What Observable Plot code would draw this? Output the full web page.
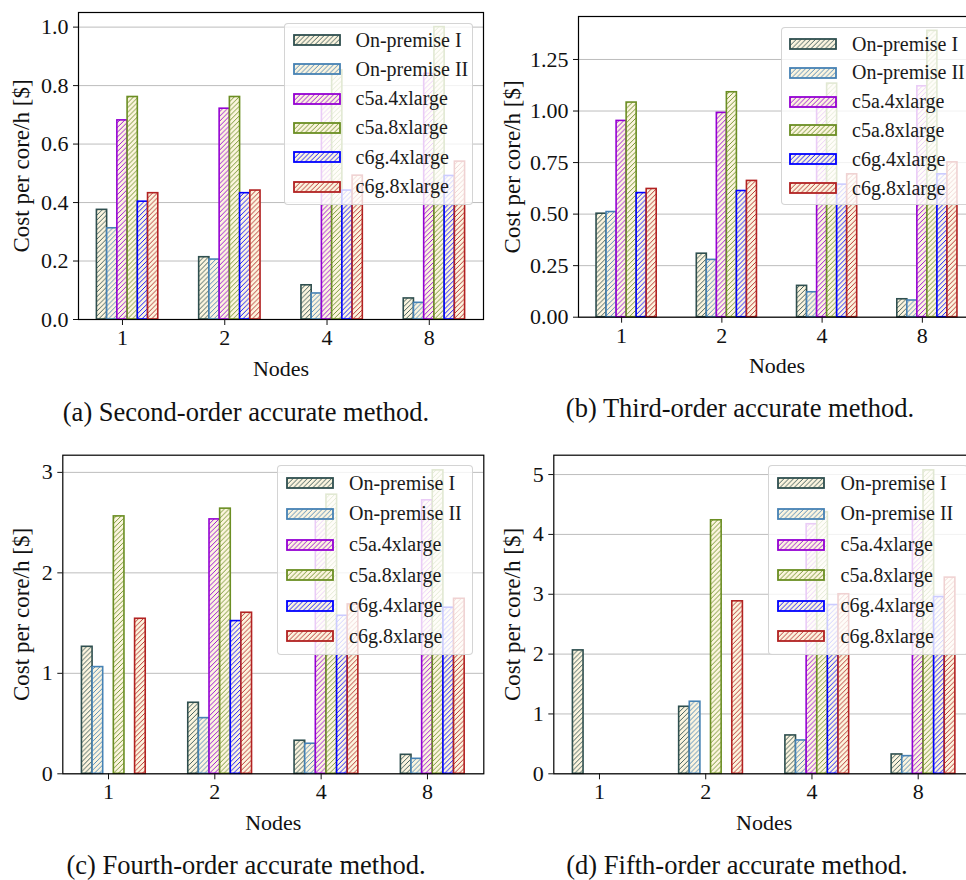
<!DOCTYPE html>
<html><head><meta charset="utf-8">
<script src="https://cdn.jsdelivr.net/npm/d3@7"></script>
<script src="https://cdn.jsdelivr.net/npm/@observablehq/plot@0.6"></script>
<style>
html,body{margin:0;padding:0;background:#fff;overflow:hidden}
#page{position:relative;width:966px;height:880px;overflow:hidden;font-family:"Liberation Serif",serif}
.panel{position:absolute;overflow:visible}
.panel svg{max-width:none !important}
.legend{position:absolute;background:rgba(255,255,255,0.8);border:1px solid rgba(205,205,205,0.85);border-radius:4px;box-sizing:border-box}
.legend .row{position:absolute;left:0;display:flex;align-items:center;font-family:"Liberation Serif",serif;font-size:20px;color:#1a1a1a;white-space:nowrap}
.legend .row svg{display:block}
.caption{position:absolute;font-family:"Liberation Serif",serif;font-size:26.5px;color:#111;white-space:nowrap;transform:translate(-50%,-50%)}
</style></head><body><div id="page"></div>
<script>
// ---------- data ----------
const nodes = ["1", "2", "4", "8"];
const series = ["On-premise I", "On-premise II", "c5a.4xlarge", "c5a.8xlarge", "c6g.4xlarge", "c6g.8xlarge"];
// values per series (rows) for nodes 1,2,4,8 (columns)
const secondOrder = [
  [0.375, 0.213, 0.117, 0.072],
  [0.312, 0.205, 0.089, 0.057],
  [0.681, 0.721, 0.740, 0.840],
  [0.761, 0.761, 0.852, 1.000],
  [0.403, 0.432, 0.441, 0.491],
  [0.432, 0.441, 0.492, 0.540]
];
const thirdOrder = [
  [0.502, 0.308, 0.152, 0.087],
  [0.510, 0.278, 0.121, 0.081],
  [0.952, 0.991, 1.044, 1.120],
  [1.041, 1.091, 1.133, 1.389],
  [0.602, 0.612, 0.643, 0.693],
  [0.622, 0.661, 0.693, 0.751]
];
const fourthOrder = [
  [1.264, 0.707, 0.329, 0.189],
  [1.062, 0.554, 0.299, 0.149],
  [0.000, 2.532, 2.540, 2.722],
  [2.562, 2.639, 2.778, 3.020],
  [0.000, 1.520, 1.573, 1.653],
  [1.543, 1.603, 1.686, 1.742]
];
const fifthOrder = [
  [2.062, 1.120, 0.641, 0.323],
  [0.000, 1.204, 0.557, 0.295],
  [0.000, 0.000, 4.170, 4.260],
  [0.000, 4.236, 4.370, 5.070],
  [0.000, 0.000, 2.820, 2.954],
  [0.000, 2.882, 3.000, 3.278]
];
const ticksSecond = [0, 0.2, 0.4, 0.6, 0.8, 1.0];
const ticksThird = [0, 0.25, 0.5, 0.75, 1.0, 1.25];
const ticksFourth = [0, 1, 2, 3];
const ticksFifth = [0, 1, 2, 3, 4, 5];
const captions = [
  "(a) Second-order accurate method.",
  "(b) Third-order accurate method.",
  "(c) Fourth-order accurate method.",
  "(d) Fifth-order accurate method."
];
const xLabel = "Nodes";
const yLabel = "Cost per core/h [$]";

// ---------- styles / layout ----------
const FONT = "Liberation Serif";
const colors = ["#2f4f4f", "#4682b4", "#9400d3", "#6b8e23", "#0000ff", "#b22222"];
const faceColor = "#fcf5df";
const panels = [
  {id: "a", values: secondOrder, ticks: ticksSecond, fmt: ".1f", left: 0, top: 0, width: 490, height: 390,
   mL: 78, mR: 7, mT: 12, mB: 71, yOff: 66, cap: [246, 412],
   lg: {left: 284, top: 23, width: 189, height: 182, first: 16, step: 29.3, sw: 7.5, gap: 15}},
  {id: "b", values: thirdOrder, ticks: ticksThird, fmt: ".2f", left: 490, top: 0, width: 490, height: 390,
   mL: 88, mR: 5, mT: 16, mB: 73.3, yOff: 75, cap: [740, 408],
   lg: {left: 781, top: 27, width: 192, height: 178, first: 16, step: 28.8, sw: 7, gap: 15}},
  {id: "c", values: fourthOrder, ticks: ticksFourth, fmt: "d", left: 0, top: 450, width: 490, height: 400,
   mL: 62.3, mR: 6.7, mT: 4.7, mB: 76.7, yOff: 50, cap: [246, 865],
   lg: {left: 277, top: 465, width: 196, height: 190, first: 17.3, step: 30.6, sw: 7.5, gap: 15.5}},
  {id: "d", values: fifthOrder, ticks: ticksFifth, fmt: "d", left: 490, top: 450, width: 490, height: 400,
   mL: 63.3, mR: 6, mT: 4.7, mB: 76.7, yOff: 50.6, cap: [737, 865],
   lg: {left: 768, top: 465, width: 200, height: 190, first: 17.3, step: 30.6, sw: 7.5, gap: 16}}
];
const barW = 0.1, barStart = -0.25, hatch = 4.8;

function patternDefs(prefix) {
  const defs = d3.create("svg:defs");
  colors.forEach((c, s) => {
    const p = defs.append("pattern").attr("id", prefix + s).attr("patternUnits", "userSpaceOnUse")
      .attr("width", hatch).attr("height", hatch);
    p.append("rect").attr("width", hatch).attr("height", hatch).attr("fill", faceColor);
    const h = hatch, q = hatch / 4;
    p.append("path").attr("d", `M0,${h} L${h},0 M${-q},${q} L${q},${-q} M${h - q},${h + q} L${h + q},${h - q}`)
      .attr("stroke", c).attr("stroke-width", 0.9).attr("fill", "none");
  });
  return defs.node();
}

const page = document.getElementById("page");

panels.forEach((p, pi) => {
  const rows = [];
  p.values.forEach((arr, s) => arr.forEach((v, g) => rows.push({s, g, v})));
  const maxV = d3.max(rows, d => d.v);
  const x0 = barStart, x1 = nodes.length - 1 + barStart + series.length * barW;
  const pad = (x1 - x0) * 0.05;
  const prefix = "h" + p.id;
  const svg = Plot.plot({
    width: p.width, height: p.height,
    marginLeft: p.mL, marginRight: p.mR, marginTop: p.mT, marginBottom: p.mB,
    x: {type: "linear", domain: [x0 - pad, x1 + pad]},
    y: {type: "linear", domain: [0, maxV * 1.05]},
    style: {fontFamily: FONT, fontSize: "22px", color: "#111", background: "transparent", overflow: "visible", maxWidth: "none"},
    marks: [
      Plot.gridY(p.ticks, {stroke: "#bdbdbd", strokeOpacity: 1, strokeWidth: 1}),
      ...series.map((name, s) => Plot.rect(rows.filter(d => d.s === s), {
        x1: d => d.g + barStart + s * barW,
        x2: d => d.g + barStart + (s + 1) * barW,
        y1: 0, y2: d => d.v,
        fill: `url(#${prefix}${s})`, stroke: colors[s], strokeWidth: 1.6
      })),
      Plot.frame({stroke: "#000", strokeWidth: 1.2}),
      Plot.axisX({ticks: d3.range(nodes.length), tickFormat: i => nodes[i], tickSize: 6, tickPadding: 4,
        label: xLabel, labelAnchor: "center", labelOffset: 56, labelArrow: false}),
      Plot.axisY({ticks: p.ticks, tickFormat: p.fmt, tickSize: 5, tickPadding: 5,
        label: yLabel, labelAnchor: "center", labelOffset: p.yOff, labelArrow: false})
    ]
  });
  svg.insertBefore(patternDefs(prefix), svg.firstChild);
  svg.style.maxWidth = "none";
  svg.setAttribute("font-family", FONT);
  d3.select(svg).selectAll("text").attr("font-family", FONT).style("font-family", FONT);
  d3.select(svg).selectAll('g[aria-label="y-axis label"] text').attr("font-size", 23).style("font-size", "23px");
  const wrap = document.createElement("div");
  wrap.className = "panel";
  wrap.style.left = p.left + "px";
  wrap.style.top = p.top + "px";
  wrap.style.width = p.width + "px";
  wrap.style.height = p.height + "px";
  wrap.appendChild(svg);
  page.appendChild(wrap);

  // legend
  const lg = document.createElement("div");
  lg.className = "legend";
  Object.assign(lg.style, {left: p.lg.left + "px", top: p.lg.top + "px", width: p.lg.width + "px", height: p.lg.height + "px"});
  series.forEach((name, s) => {
    const row = document.createElement("div");
    row.className = "row";
    row.style.top = (p.lg.first + s * p.lg.step - 15) + "px";
    row.style.height = "30px";
    row.style.left = p.lg.sw + "px";
    const sw = d3.create("svg").attr("width", 48).attr("height", 14);
    sw.node().appendChild(patternDefs("l" + p.id + s + "_"));
    sw.append("rect").attr("x", 1).attr("y", 2).attr("width", 46).attr("height", 10)
      .attr("fill", `url(#l${p.id}${s}_${s})`).attr("stroke", colors[s]).attr("stroke-width", 1.8);
    const sn = sw.node();
    sn.style.marginRight = p.lg.gap + "px";
    row.appendChild(sn);
    const t = document.createElement("span");
    t.textContent = name;
    row.appendChild(t);
    lg.appendChild(row);
  });
  page.appendChild(lg);

  const cap = document.createElement("div");
  cap.className = "caption";
  cap.textContent = captions[pi];
  cap.style.left = p.cap[0] + "px";
  cap.style.top = p.cap[1] + "px";
  page.appendChild(cap);
});
</script>
</body></html>
